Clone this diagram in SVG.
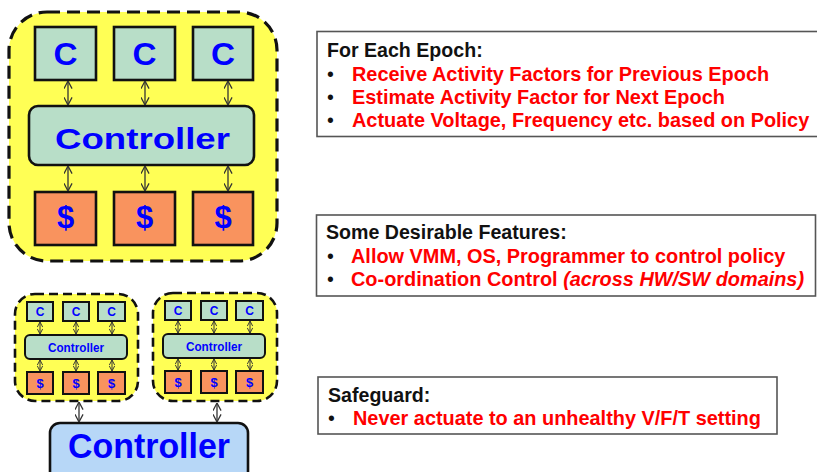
<svg xmlns="http://www.w3.org/2000/svg" width="817" height="472" viewBox="0 0 817 472">
  <style>
    .t { font-family: "Liberation Sans", Arial, sans-serif; font-weight: bold; }
    .blue { fill: #0000FF; }
    .cluster { fill: #FFFF55; stroke: #111; stroke-width: 3.2; stroke-dasharray: 13 7; }
    .clusterS { fill: #FFFF55; stroke: #111; stroke-width: 2.6; stroke-dasharray: 9 5; }
    .core { fill: #B8DEC8; stroke: #111; stroke-width: 2.6; }
    .cache { fill: #F9935E; stroke: #111; stroke-width: 2.6; }
    .coreS { fill: #B8DEC8; stroke: #111; stroke-width: 2; }
    .cacheS { fill: #F9935E; stroke: #111; stroke-width: 2; }
    .top { fill: #B7D7F7; stroke: #111; stroke-width: 2.6; }
    .link { stroke: #333; stroke-width: 1.3; fill: none; marker-start: url(#hd); marker-end: url(#hd); }
    .linkS { stroke: #333; stroke-width: 1; fill: none; marker-start: url(#hdS); marker-end: url(#hdS); }
    .panel { fill: #fff; stroke: #555; stroke-width: 1.6; }
    .hdr { fill: #111; font-size: 19.6px; }
    .red { fill: #FF0000; font-size: 19.9px; }
    .bul { fill: #111; font-size: 19.5px; font-weight: normal; }
  </style>
  <defs>
    <marker id="hd" viewBox="0 0 10 10" refX="9.5" refY="5" markerWidth="9" markerHeight="9" markerUnits="userSpaceOnUse" orient="auto-start-reverse">
      <path d="M1,0.5 L9.5,5 L1,9.5" fill="none" stroke="#333" stroke-width="1.4"/>
    </marker>
    <marker id="hdS" viewBox="0 0 10 10" refX="9.5" refY="5" markerWidth="6" markerHeight="6" markerUnits="userSpaceOnUse" orient="auto-start-reverse">
      <path d="M1,0.5 L9.5,5 L1,9.5" fill="none" stroke="#333" stroke-width="1.6"/>
    </marker>
  </defs>

  <!-- large socket: three cores, local controller, three caches -->
  <g id="socket">
    <rect class="cluster" x="9" y="12" width="268" height="249" rx="38"/>
  </g>
  <g id="core1"><rect class="core" x="35" y="27" width="61" height="53"/><text class="t blue" x="65.5" y="65" font-size="31" text-anchor="middle" textLength="24" lengthAdjust="spacingAndGlyphs">C</text></g>
  <g id="core2"><rect class="core" x="114" y="27" width="61" height="53"/><text class="t blue" x="144.5" y="65" font-size="31" text-anchor="middle" textLength="24" lengthAdjust="spacingAndGlyphs">C</text></g>
  <g id="core3"><rect class="core" x="193" y="27" width="60" height="53"/><text class="t blue" x="223" y="65" font-size="31" text-anchor="middle" textLength="24" lengthAdjust="spacingAndGlyphs">C</text></g>
  <g id="controller"><rect class="core" x="29" y="106" width="225" height="59" rx="9"/><text class="t blue" x="55" y="149" font-size="29.5" textLength="175" lengthAdjust="spacingAndGlyphs">Controller</text></g>
  <g id="cache1"><rect class="cache" x="35" y="192" width="61" height="53"/><text class="t blue" x="65.5" y="228" font-size="31" text-anchor="middle">$</text></g>
  <g id="cache2"><rect class="cache" x="114" y="192" width="61" height="53"/><text class="t blue" x="144.5" y="228" font-size="31" text-anchor="middle">$</text></g>
  <g id="cache3"><rect class="cache" x="193" y="192" width="60" height="53"/><text class="t blue" x="223" y="228" font-size="31" text-anchor="middle">$</text></g>

  <!-- small socket A -->
  <g id="socketA">
    <rect class="clusterS" x="15" y="294" width="123" height="107" rx="20"/>
    <rect class="coreS" x="27" y="302" width="26" height="19"/>
    <rect class="coreS" x="63" y="302" width="26" height="19"/>
    <rect class="coreS" x="98" y="302" width="27" height="19"/>
    <rect class="coreS" x="25" y="335" width="102" height="24" rx="5"/>
    <rect class="cacheS" x="27" y="372" width="26" height="22"/>
    <rect class="cacheS" x="63" y="372" width="26" height="22"/>
    <rect class="cacheS" x="98" y="372" width="27" height="22"/>
    <g class="t blue" font-size="12" text-anchor="middle">
      <text x="40" y="316">C</text><text x="76" y="316">C</text><text x="111.5" y="316">C</text>
      <text x="76" y="351.5" font-size="12.5" textLength="56" lengthAdjust="spacingAndGlyphs">Controller</text>
      <text x="40" y="388" font-size="13">$</text><text x="76" y="388" font-size="13">$</text><text x="111.5" y="388" font-size="13">$</text>
    </g>
  </g>

  <!-- small socket B -->
  <g id="socketB" transform="translate(138,-1)">
    <rect class="clusterS" x="15" y="294" width="124" height="108" rx="20"/>
    <rect class="coreS" x="27" y="302" width="26" height="19"/>
    <rect class="coreS" x="63" y="302" width="26" height="19"/>
    <rect class="coreS" x="98" y="302" width="27" height="19"/>
    <rect class="coreS" x="25" y="335" width="102" height="24" rx="5"/>
    <rect class="cacheS" x="27" y="372" width="26" height="22"/>
    <rect class="cacheS" x="63" y="372" width="26" height="22"/>
    <rect class="cacheS" x="98" y="372" width="27" height="22"/>
    <g class="t blue" font-size="12" text-anchor="middle">
      <text x="40" y="316">C</text><text x="76" y="316">C</text><text x="111.5" y="316">C</text>
      <text x="76" y="351.5" font-size="12.5" textLength="56" lengthAdjust="spacingAndGlyphs">Controller</text>
      <text x="40" y="388" font-size="13">$</text><text x="76" y="388" font-size="13">$</text><text x="111.5" y="388" font-size="13">$</text>
    </g>
  </g>

  <!-- global controller -->
  <g id="globalController">
    <rect class="top" x="50" y="423" width="198" height="60" rx="10"/>
    <text class="t blue" x="149" y="458" font-size="35" text-anchor="middle" textLength="162" lengthAdjust="spacingAndGlyphs">Controller</text>
  </g>

  <!-- connectors -->
  <g id="links">
    <line class="link" x1="68" y1="81" x2="68" y2="105"/>
    <line class="link" x1="145" y1="81" x2="145" y2="105"/>
    <line class="link" x1="228" y1="81" x2="228" y2="105"/>
    <line class="link" x1="68" y1="166" x2="68" y2="191"/>
    <line class="link" x1="145" y1="166" x2="145" y2="191"/>
    <line class="link" x1="228" y1="166" x2="228" y2="191"/>

    <line class="linkS" x1="40" y1="322" x2="40" y2="334"/>
    <line class="linkS" x1="76" y1="322" x2="76" y2="334"/>
    <line class="linkS" x1="112" y1="322" x2="112" y2="334"/>
    <line class="linkS" x1="40" y1="360" x2="40" y2="371"/>
    <line class="linkS" x1="76" y1="360" x2="76" y2="371"/>
    <line class="linkS" x1="112" y1="360" x2="112" y2="371"/>

    <line class="linkS" x1="178" y1="321" x2="178" y2="333"/>
    <line class="linkS" x1="214" y1="321" x2="214" y2="333"/>
    <line class="linkS" x1="250" y1="321" x2="250" y2="333"/>
    <line class="linkS" x1="178" y1="359" x2="178" y2="370"/>
    <line class="linkS" x1="214" y1="359" x2="214" y2="370"/>
    <line class="linkS" x1="250" y1="359" x2="250" y2="370"/>

    <line class="link" x1="79" y1="402" x2="79" y2="422"/>
    <line class="link" x1="217" y1="403" x2="217" y2="422"/>
  </g>

  <!-- per-epoch actions -->
  <g id="epochPanel">
    <rect class="panel" x="317" y="31.5" width="520" height="105"/>
    <text class="t hdr" x="327" y="57">For Each Epoch:</text>
    <text class="t bul" x="327" y="81">•</text>
    <text class="t red" x="352" y="81">Receive Activity Factors for Previous Epoch</text>
    <text class="t bul" x="327" y="104">•</text>
    <text class="t red" x="352" y="104">Estimate Activity Factor for Next Epoch</text>
    <text class="t bul" x="327" y="127">•</text>
    <text class="t red" x="352" y="127">Actuate Voltage, Frequency etc. based on Policy</text>
  </g>

  <!-- desirable features -->
  <g id="featuresPanel">
    <rect class="panel" x="316.5" y="215" width="499" height="81"/>
    <text class="t hdr" x="326" y="239">Some Desirable Features:</text>
    <text class="t bul" x="327" y="263">•</text>
    <text class="t red" x="351" y="263">Allow VMM, OS, Programmer to control policy</text>
    <text class="t bul" x="327" y="286">•</text>
    <text class="t red" x="351" y="286">Co-ordination Control <tspan font-style="italic">(across HW/SW domains)</tspan></text>
  </g>

  <!-- safeguard -->
  <g id="safeguardPanel">
    <rect class="panel" x="318" y="377" width="459" height="57"/>
    <text class="t hdr" x="328" y="402">Safeguard:</text>
    <text class="t bul" x="328" y="425">•</text>
    <text class="t red" x="353" y="425">Never actuate to an unhealthy V/F/T setting</text>
  </g>
</svg>
